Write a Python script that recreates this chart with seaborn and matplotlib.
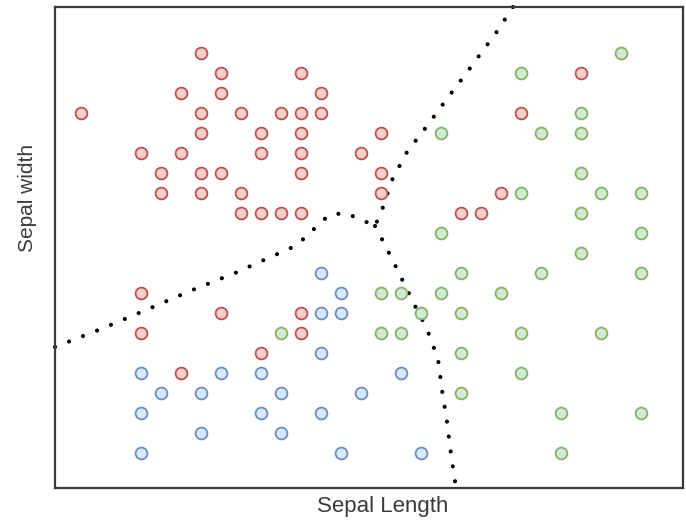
import matplotlib
matplotlib.use("Agg")
import seaborn as sns
from matplotlib import pyplot as plt

setosa_length = [4.6, 4.7, 5.1, 6.5, 4.5, 4.7, 5.2, 4.0, 4.6, 4.8, 5.0, 5.1, 5.2, 6.2,
                 4.6, 4.9, 5.1, 5.5, 4.3, 4.5, 4.9, 5.1, 5.4, 4.4, 4.6, 4.7, 5.1, 5.5,
                 4.4, 4.6, 4.8, 5.5, 6.1, 4.8, 4.9, 5.0, 5.1, 5.9, 6.0,
                 4.3, 4.7, 5.1, 4.3, 5.1, 4.9, 4.5]
setosa_width = [4.4, 4.3, 4.3, 4.3, 4.2, 4.2, 4.2, 4.1, 4.1, 4.1, 4.1, 4.1, 4.1, 4.1,
                4.0, 4.0, 4.0, 4.0, 3.9, 3.9, 3.9, 3.9, 3.9, 3.8, 3.8, 3.8, 3.8, 3.8,
                3.7, 3.7, 3.7, 3.7, 3.7, 3.6, 3.6, 3.6, 3.6, 3.6, 3.6,
                3.2, 3.1, 3.1, 3.0, 3.0, 2.9, 2.8]

versicolor_length = [5.2, 5.3, 5.2, 5.3, 5.2, 4.3, 4.7, 4.9, 5.6, 4.4, 4.6, 5.0, 5.4,
                     4.3, 4.9, 5.2, 4.6, 5.0, 4.3, 5.3, 5.7]
versicolor_width = [3.3, 3.2, 3.1, 3.1, 2.9, 2.8, 2.8, 2.8, 2.8, 2.7, 2.7, 2.7, 2.7,
                    2.6, 2.6, 2.6, 2.5, 2.5, 2.4, 2.4, 2.4]

virginica_length = [6.7, 6.2, 6.5, 5.8, 6.3, 6.5, 6.5, 6.2, 6.6, 6.8, 6.5, 5.8, 6.8,
                    6.5, 5.9, 6.3, 6.8, 5.5, 5.6, 5.8, 6.1, 5.7, 5.9, 5.0, 5.5, 5.6,
                    6.2, 6.6, 5.9, 6.2, 5.9, 6.4, 6.8, 6.4]
virginica_width = [4.4, 4.3, 4.1, 4.0, 4.0, 4.0, 3.8, 3.7, 3.7, 3.7, 3.6, 3.5, 3.5,
                   3.4, 3.3, 3.3, 3.3, 3.2, 3.2, 3.2, 3.2, 3.1, 3.1, 3.0, 3.0, 3.0,
                   3.0, 3.0, 2.9, 2.8, 2.7, 2.6, 2.6, 2.4]

# Decision boundaries (dotted)
left_bound_x = [3.87, 4.10, 4.325, 4.545, 4.77, 4.915, 5.06, 5.125, 5.18, 5.24, 5.32, 5.395, 5.47]
left_bound_y = [2.93, 3.02, 3.115, 3.21, 3.30, 3.365, 3.43, 3.48, 3.535, 3.59, 3.60, 3.57, 3.535]
upper_bound_x = [6.16, 6.065, 6.015, 5.92, 5.825, 5.73, 5.63, 5.555, 5.505, 5.47]
upper_bound_y = [4.63, 4.485, 4.42, 4.29, 4.165, 4.035, 3.905, 3.765, 3.615, 3.535]
lower_bound_x = [5.47, 5.515, 5.585, 5.655, 5.73, 5.785, 5.805, 5.83, 5.85, 5.875]
lower_bound_y = [3.535, 3.45, 3.31, 3.165, 3.02, 2.87, 2.715, 2.555, 2.395, 2.225]

sns.set_style("white")
plt.rcParams["font.family"] = ["Liberation Sans", "DejaVu Sans"]

fig = plt.figure(figsize=(6.86, 5.23), dpi=100)
ax = fig.add_axes([55 / 686, 35 / 523, 628 / 686, 481 / 523])

groups = [
    (setosa_length, setosa_width, "#f8cecc", "#b85450"),
    (versicolor_length, versicolor_width, "#dae8fc", "#6c8ebf"),
    (virginica_length, virginica_width, "#d5e8d4", "#82b366"),
]
for xs, ys, fill, edge in groups:
    sns.scatterplot(x=xs, y=ys, ax=ax, s=72, color=fill, edgecolor=edge,
                    linewidth=1.3, zorder=3)

for bx, by in [(left_bound_x, left_bound_y), (upper_bound_x, upper_bound_y),
               (lower_bound_x, lower_bound_y)]:
    ax.plot(bx, by, color="black", linewidth=3.0, linestyle=(0, (0.01, 3.6)),
            dash_capstyle="round", zorder=2, clip_on=False)

ax.set_xlim(3.87, 7.01)
ax.set_ylim(2.225, 4.63)
ax.set_xticks([])
ax.set_yticks([])
for sp in ax.spines.values():
    sp.set_visible(True)
    sp.set_color("#3a3a3a")
    sp.set_linewidth(1.6)

ax.set_xlabel("Sepal Length", fontsize=16, color="#3a3a3a")
ax.set_ylabel("Sepal width", fontsize=15, color="#3a3a3a")
ax.xaxis.set_label_coords(0.521, -0.016)
ax.yaxis.set_label_coords(-0.028, 0.603)

fig.savefig("out.png", dpi=100)
